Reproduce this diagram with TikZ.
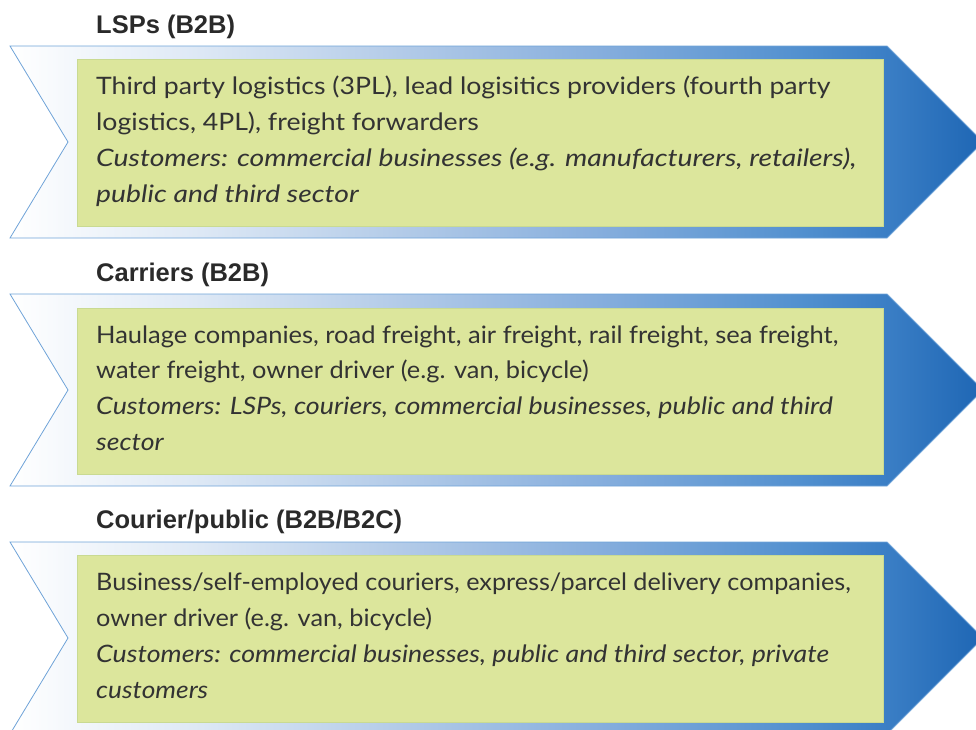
\documentclass[tikz,border=0pt]{standalone}
\usepackage{graphicx}
\usepackage{fontspec}
\setmainfont{Lato}
\newfontfamily\bodyfont{Lato}[FakeStretch=1.11]
\newfontfamily\custfont{Lato}[FakeStretch=1.18]
\newfontfamily\titlefont{Liberation Sans}
\newcommand\hsq[2]{\scalebox{#1}[1]{#2}}
\definecolor{arrowline}{HTML}{6FA3D8}
\definecolor{boxgreen}{HTML}{DCE69C}
\definecolor{boxedge}{HTML}{C9DA92}
\definecolor{textgray}{HTML}{333333}
\definecolor{titlegray}{HTML}{2A2A2A}
\definecolor{sA}{HTML}{DDE8F5}
\definecolor{sB}{HTML}{B3CBE8}
\definecolor{sC}{HTML}{86AEDD}
\definecolor{sD}{HTML}{5290CF}
\definecolor{sE}{HTML}{3A7EC5}
\definecolor{sF}{HTML}{1E66B4}
\pgfdeclarehorizontalshading{arrowshade}{100bp}{color(0bp)=(white); color(25bp)=(white); color(34.8bp)=(sA); color(45bp)=(sB); color(55.3bp)=(sC); color(65.6bp)=(sD); color(70.1bp)=(sE); color(75bp)=(sF); color(100bp)=(sF)}
\tikzset{
  arrowbody/.style={shade, shading=arrowshade, draw=arrowline, line width=0.8pt},
  greenbox/.style={fill=boxgreen, draw=boxedge, line width=0.6pt},
  titletext/.style={anchor=base west, inner sep=0pt, text=titlegray, font=\titlefont\bfseries\fontsize{25.5}{30}\selectfont},
  bodytext/.style={anchor=base west, inner sep=0pt, text=textgray, font=\bodyfont\fontsize{24}{36}\selectfont},
  custtext/.style={anchor=base west, inner sep=0pt, text=textgray, font=\custfont\itshape\fontsize{24}{36}\selectfont}
}
\begin{document}
\begin{tikzpicture}[x=1pt,y=-1pt]
\useasboundingbox (0,0) rectangle (976,729);
\clip (0,0) rectangle (976,729);
% Row 1
\path[arrowbody] (10,46) -- (887,46) -- (983,142) -- (887,238) -- (10,238) -- (68,142) -- cycle;
\path[greenbox] (77,59) rectangle (883,226);
\node[titletext] (t1) at (96,33) {LSPs (B2B)};
\node[bodytext] (a1) at (96,94) {Third party logistics (3PL), lead logisitics providers (fourth party};
\node[bodytext] (a2) at (96,130) {logistics, 4PL), freight forwarders};
\node[custtext] (a3) at (96,166) {Customers: commercial businesses (e.g. manufacturers, retailers),};
\node[custtext] (a4) at (96,202) {public and third sector};
% Row 2
\path[arrowbody] (10,294) -- (887,294) -- (983,390) -- (887,486) -- (10,486) -- (68,390) -- cycle;
\path[greenbox] (77,308) rectangle (883,474);
\node[titletext] (t2) at (96,281) {Carriers (B2B)};
\node[bodytext] (b1) at (96,343) {\hsq{0.957}{Haulage companies, road freight, air freight, rail freight, sea freight,}};
\node[bodytext] (b2) at (96,378) {\hsq{0.952}{water freight, owner driver (e.g. van, bicycle)}};
\node[custtext] (b3) at (96,414) {\hsq{0.948}{Customers: LSPs, couriers, commercial businesses, public and third}};
\node[custtext] (b4) at (96,450) {\hsq{0.94}{sector}};
% Row 3
\path[arrowbody] (10,542) -- (887,542) -- (983,638) -- (887,734) -- (10,734) -- (68,638) -- cycle;
\path[greenbox] (77,555) rectangle (883,722);
\node[titletext] (t3) at (96,528) {Courier/public (B2B/B2C)};
\node[bodytext] (c1) at (96,590) {\hsq{0.946}{Business/self-employed couriers, express/parcel delivery companies,}};
\node[bodytext] (c2) at (96,626) {\hsq{0.95}{owner driver (e.g. van, bicycle)}};
\node[custtext] (c3) at (96,662) {\hsq{0.945}{Customers: commercial businesses, public and third sector, private}};
\node[custtext] (c4) at (96,698) {\hsq{0.93}{customers}};
\end{tikzpicture}
\end{document}
